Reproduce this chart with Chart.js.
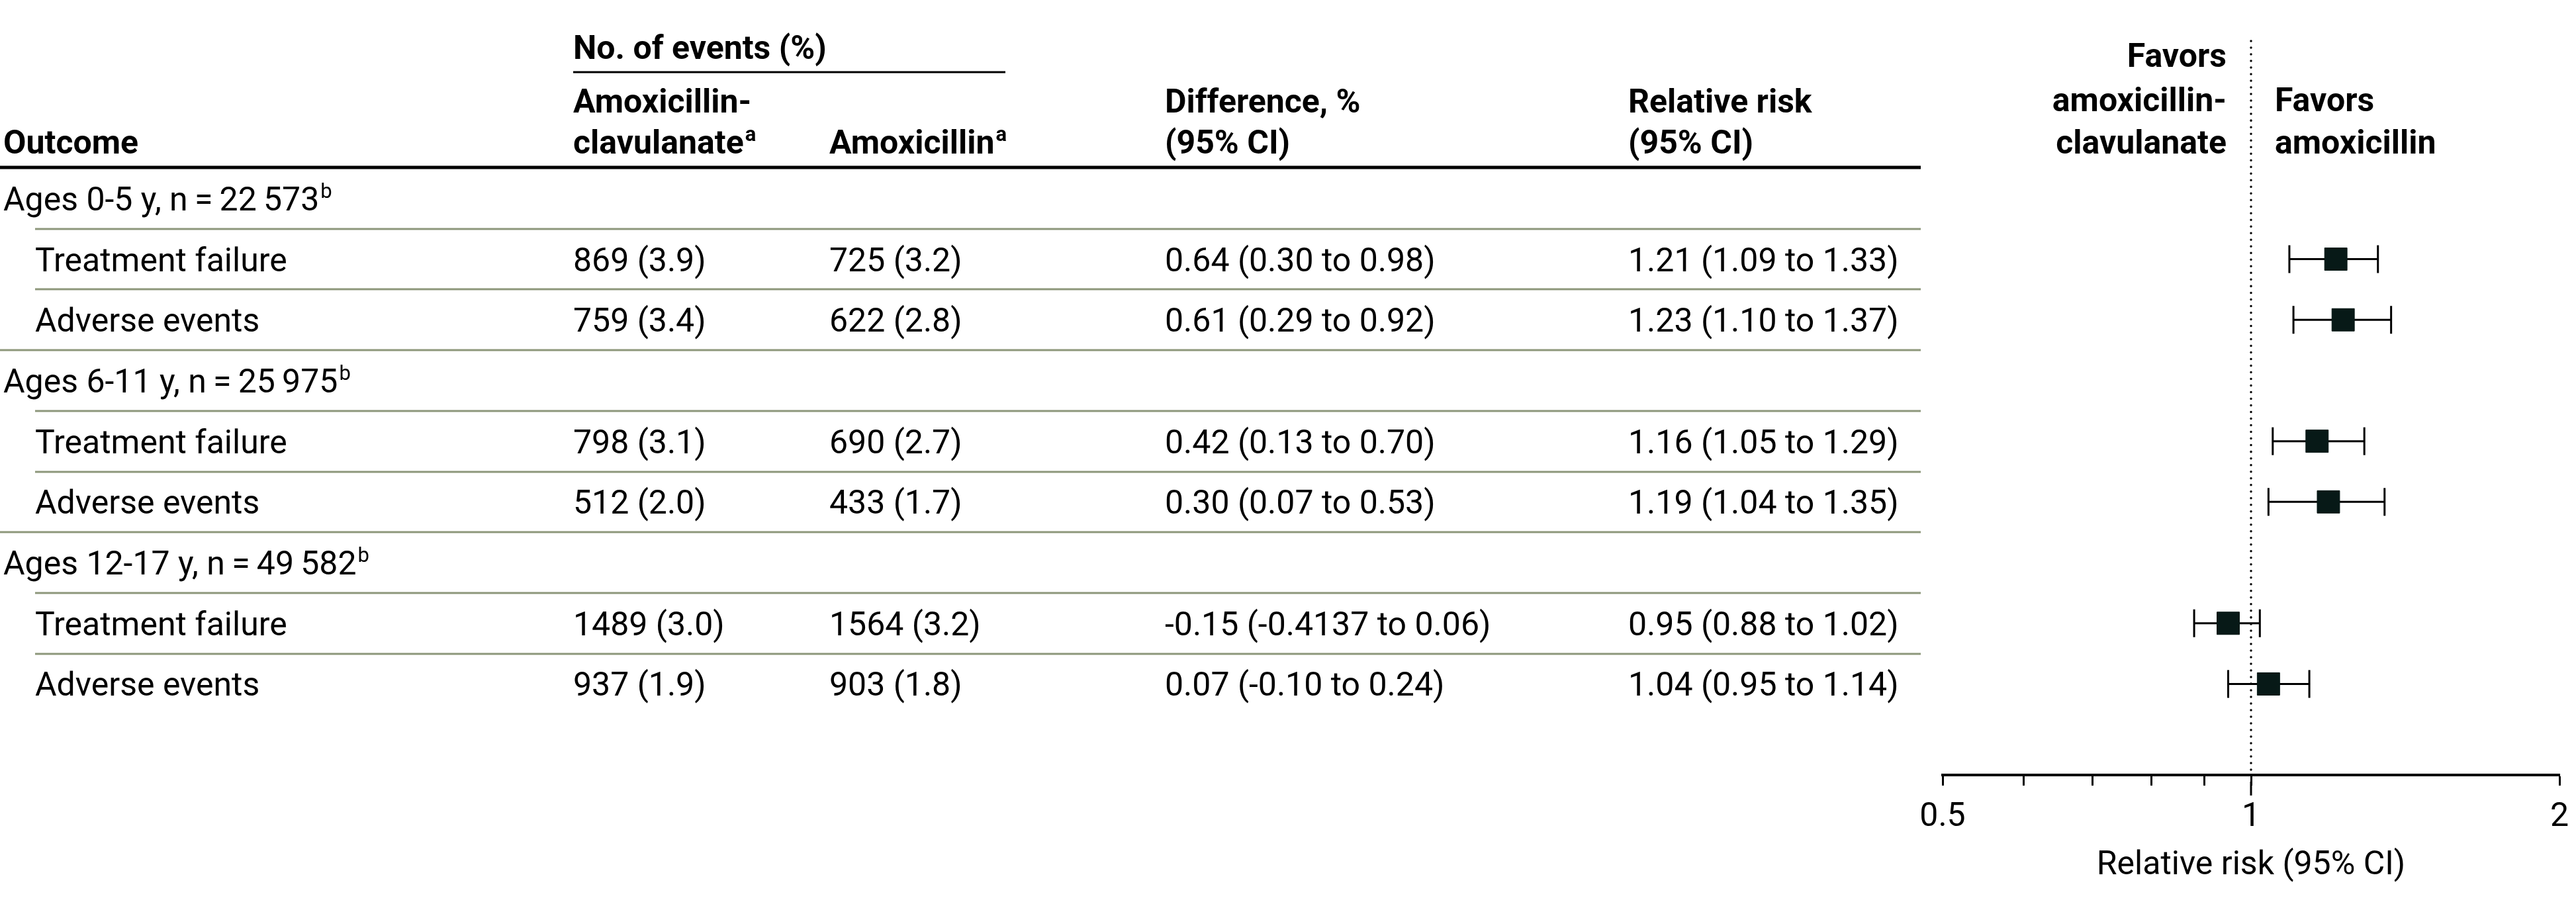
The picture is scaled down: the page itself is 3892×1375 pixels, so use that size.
<!DOCTYPE html>
<html>
<head>
<meta charset="utf-8">
<script src="https://cdn.jsdelivr.net/npm/chart.js@4.4.0/dist/chart.umd.min.js"></script>
<style>
  html, body { margin: 0; padding: 0; background: #fff; }
  canvas { display: block; }
</style>
</head>
<body>
<canvas id="forest" width="3892" height="1375"></canvas>
<script>
// Table data
const groupLabels = ["Ages 0-5 y, n\u2009=\u200922\u2009573", "Ages 6-11 y, n\u2009=\u200925\u2009975", "Ages 12-17 y, n\u2009=\u200949\u2009582"];
const outcomes = ["Treatment failure", "Adverse events", "Treatment failure", "Adverse events", "Treatment failure", "Adverse events"];
const amcEvents = ["869 (3.9)", "759 (3.4)", "798 (3.1)", "512 (2.0)", "1489 (3.0)", "937 (1.9)"];
const amoxEvents = ["725 (3.2)", "622 (2.8)", "690 (2.7)", "433 (1.7)", "1564 (3.2)", "903 (1.8)"];
const diffText = ["0.64 (0.30 to 0.98)", "0.61 (0.29 to 0.92)", "0.42 (0.13 to 0.70)", "0.30 (0.07 to 0.53)", "-0.15 (-0.4137 to 0.06)", "0.07 (-0.10 to 0.24)"];
const rr = [1.21, 1.23, 1.16, 1.19, 0.95, 1.04];
const rrLow = [1.09, 1.10, 1.05, 1.04, 0.88, 0.95];
const rrHigh = [1.33, 1.37, 1.29, 1.35, 1.02, 1.14];
const xTicks = [0.5, 0.6, 0.7, 0.8, 0.9, 1, 2];
const xTickLabels = ["0.5", "", "", "", "", "1", "2"];

// row layout: group label row followed by its two outcome rows
const rows = [];
groupLabels.forEach((g, gi) => {
  rows.push({ type: 'group', label: g });
  for (let k = gi * 2; k < gi * 2 + 2; k++) rows.push({ type: 'item', k });
});
const itemRow = [];
rows.forEach((r, i) => { if (r.type === 'item') itemRow[r.k] = i; });

const FONT = 'Roboto, "Liberation Sans", sans-serif';
const SIZE = 50;
Chart.defaults.font.family = FONT;

function textSup(ctx, text, sup, x, y, weight) {
  ctx.font = `${weight} ${SIZE}px ${FONT}`;
  ctx.fillText(text, x, y);
  const w = ctx.measureText(text).width;
  ctx.font = `${weight} ${Math.round(SIZE * 0.62)}px ${FONT}`;
  ctx.fillText(sup, x + w + 2, y - 19);
}

const tablePlugin = {
  id: 'table',
  beforeDatasetsDraw(chart) {
    const { ctx, chartArea } = chart;
    const x1 = chart.scales.x.getPixelForValue(1);
    ctx.save();
    ctx.strokeStyle = '#000';
    ctx.lineWidth = 3.5;
    ctx.lineCap = 'round';
    ctx.setLineDash([0.01, 10]);
    ctx.beginPath();
    ctx.moveTo(x1, 62);
    ctx.lineTo(x1, chartArea.bottom - 4);
    ctx.stroke();
    ctx.restore();
  },
  afterDraw(chart) {
    const { ctx, chartArea } = chart;
    const ys = chart.scales.y, xs = chart.scales.x;
    const py = i => ys.getPixelForValue(i);
    const x1 = xs.getPixelForValue(1);
    const col = [5, 53, 866, 1253, 1760, 2460];
    const tableRight = 2902;

    ctx.save();
    ctx.fillStyle = '#000';
    ctx.textBaseline = 'alphabetic';
    ctx.textAlign = 'left';

    // header
    ctx.font = `bold ${SIZE}px ${FONT}`;
    ctx.fillText('No. of events (%)', col[2], 89);
    ctx.fillText('Amoxicillin-', col[2], 170);
    textSup(ctx, 'clavulanate', 'a', col[2], 232, 'bold');
    textSup(ctx, 'Amoxicillin', 'a', col[3], 232, 'bold');
    ctx.font = `bold ${SIZE}px ${FONT}`;
    ctx.fillText('Outcome', col[0], 232);
    ctx.fillText('Difference, %', col[4], 170);
    ctx.fillText('(95% CI)', col[4], 232);
    ctx.fillText('Relative risk', col[5], 170);
    ctx.fillText('(95% CI)', col[5], 232);

    ctx.textAlign = 'right';
    ctx.fillText('Favors', x1 - 37, 101);
    ctx.fillText('amoxicillin-', x1 - 37, 168);
    ctx.fillText('clavulanate', x1 - 37, 232);
    ctx.textAlign = 'left';
    ctx.fillText('Favors', x1 + 36, 168);
    ctx.fillText('amoxicillin', x1 + 36, 232);

    ctx.strokeStyle = '#000';
    ctx.lineWidth = 3;
    ctx.beginPath(); ctx.moveTo(col[2], 109); ctx.lineTo(1519, 109); ctx.stroke();
    ctx.lineWidth = 5;
    ctx.beginPath(); ctx.moveTo(0, 253); ctx.lineTo(tableRight, 253); ctx.stroke();

    // body rows
    rows.forEach((r, i) => {
      const base = py(i) + 18;
      if (r.type === 'group') {
        textSup(ctx, r.label, 'b', col[0], base, 'normal');
      } else {
        const k = r.k;
        ctx.font = `normal ${SIZE}px ${FONT}`;
        ctx.fillText(outcomes[k], col[1], base);
        ctx.fillText(amcEvents[k], col[2], base);
        ctx.fillText(amoxEvents[k], col[3], base);
        ctx.fillText(diffText[k], col[4], base);
        ctx.fillText(`${rr[k].toFixed(2)} (${rrLow[k].toFixed(2)} to ${rrHigh[k].toFixed(2)})`, col[5], base);
      }
      if (i < rows.length - 1) {
        const yl = Math.round((py(i) + py(i + 1)) / 2);
        const x0 = rows[i + 1].type === 'group' ? 0 : col[1];
        ctx.strokeStyle = '#8d977b';
        ctx.lineWidth = 3;
        ctx.beginPath(); ctx.moveTo(x0, yl); ctx.lineTo(tableRight, yl); ctx.stroke();
      }
    });

    // longer tick at 1
    ctx.strokeStyle = '#000';
    ctx.lineWidth = 3;
    ctx.beginPath();
    ctx.moveTo(x1, chartArea.bottom + 10);
    ctx.lineTo(x1, chartArea.bottom + 31);
    ctx.stroke();
    ctx.restore();
  }
};

const datasets = [{
  label: 'Relative risk',
  data: rr.map((v, k) => ({ x: v, y: itemRow[k] })),
  pointStyle: 'rect',
  pointRadius: 24,
  pointBackgroundColor: '#071917',
  pointBorderColor: '#071917',
  pointBorderWidth: 1,
  showLine: false
}];
rr.forEach((v, k) => {
  datasets.push({
    label: 'CI ' + k,
    data: [{ x: rrLow[k], y: itemRow[k] }, { x: rrHigh[k], y: itemRow[k] }],
    showLine: true,
    borderColor: '#000',
    borderWidth: 3,
    pointStyle: 'line',
    pointRotation: 90,
    pointRadius: 21,
    pointBorderWidth: 3,
    pointBorderColor: '#000'
  });
});

new Chart(document.getElementById('forest'), {
  type: 'scatter',
  data: { datasets },
  plugins: [tablePlugin],
  options: {
    responsive: false,
    animation: false,
    devicePixelRatio: 1,
    layout: { padding: { left: 2935, right: 8, top: 254, bottom: 0 } },
    plugins: { legend: { display: false }, tooltip: { enabled: false } },
    scales: {
      x: {
        type: 'logarithmic',
        min: 0.5,
        max: 2,
        afterBuildTicks: a => { a.ticks = xTicks.map(v => ({ value: v })); },
        afterFit: s => { s.height = 204; s.paddingLeft = 0; s.paddingRight = 0; },
        ticks: {
          autoSkip: false,
          maxRotation: 0,
          minRotation: 0,
          padding: 18,
          color: '#000',
          font: { size: SIZE },
          callback: v => xTickLabels[xTicks.indexOf(v)] ?? ''
        },
        grid: { drawOnChartArea: false, drawTicks: true, tickLength: 16, tickWidth: 3, tickColor: '#000' },
        border: { display: true, color: '#000', width: 4 },
        title: { display: true, text: 'Relative risk (95% CI)', color: '#000', font: { size: SIZE }, padding: { top: 0, bottom: 37 } }
      },
      y: { type: 'linear', min: -0.5, max: 9.5, reverse: true, display: false }
    }
  }
});
</script>
</body>
</html>
